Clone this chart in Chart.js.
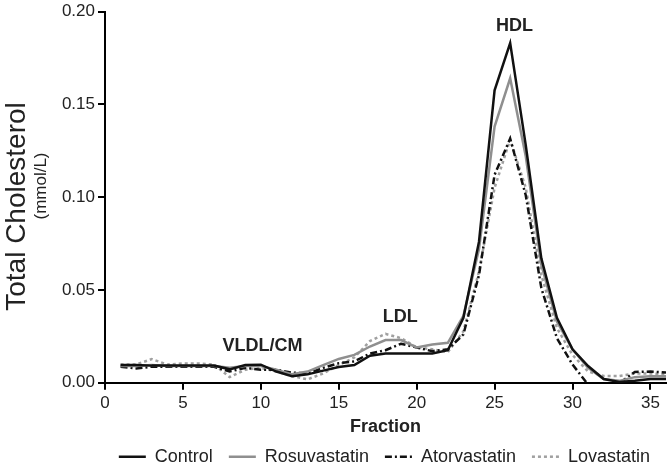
<!DOCTYPE html>
<html lang="en">
<head>
<meta charset="UTF-8">
<title>Total Cholesterol by Fraction</title>
<script src="https://cdn.jsdelivr.net/npm/chart.js"></script>
<style>
  html, body { margin: 0; padding: 0; background: #fff; }
  #wrap { width: 670px; height: 467px; position: relative; }
</style>
</head>
<body>
<div id="wrap"><canvas id="chart" width="670" height="467"></canvas></div>
<script>
// fraction numbers (x) and total cholesterol in mmol/L for each group
const fractions = [1, 2, 3, 4, 5, 6, 7, 8, 9, 10, 11, 12, 13, 14, 15, 16, 17, 18,
                   19, 20, 21, 22, 23, 24, 25, 26, 27, 28, 29, 30, 31, 32, 33, 34, 35, 36];
const control = [0.0095, 0.0095, 0.0092, 0.0092, 0.0092, 0.0092, 0.0092, 0.0072, 0.0095, 0.0097,
                 0.006, 0.0035, 0.0045, 0.0065, 0.0085, 0.0095, 0.0145, 0.0157, 0.0157, 0.0157,
                 0.0157, 0.0175, 0.035, 0.076, 0.1575, 0.183, 0.128, 0.067, 0.035, 0.018,
                 0.009, 0.002, 0.0004, 0.001, 0.002, 0.002];
const rosuvastatin = [0.009, 0.009, 0.0095, 0.009, 0.009, 0.009, 0.009, 0.008, 0.009, 0.009,
                      0.007, 0.0045, 0.006, 0.0095, 0.0128, 0.015, 0.0195, 0.023, 0.023, 0.019,
                      0.0206, 0.0215, 0.036, 0.072, 0.138, 0.164, 0.122, 0.0635, 0.033, 0.018,
                      0.008, 0.002, 0.001, 0.003, 0.0035, 0.0035];
const atorvastatin = [0.0086, 0.0077, 0.0086, 0.0086, 0.0086, 0.0086, 0.0086, 0.006, 0.008, 0.007,
                      0.007, 0.0054, 0.005, 0.008, 0.0105, 0.0115, 0.0157, 0.0175, 0.021, 0.019,
                      0.017, 0.018, 0.026, 0.058, 0.112, 0.1315, 0.101, 0.051, 0.024, 0.0098,
                      -0.001, -0.004, -0.0003, 0.0058, 0.006, 0.0055];
const lovastatin = [0.0098, 0.0098, 0.0127, 0.0098, 0.0104, 0.0104, 0.0098, 0.003, 0.007, 0.008,
                    0.006, 0.0036, 0.0018, 0.005, 0.0095, 0.0136, 0.0224, 0.0263, 0.024, 0.019,
                    0.018, 0.0165, 0.0277, 0.06, 0.105, 0.131, 0.105, 0.058, 0.0295, 0.015,
                    0.006, 0.0036, 0.0036, 0.005, 0.005, 0.0045];

const xTickValues = [0, 5, 10, 15, 20, 25, 30, 35];
const yTickValues = [0, 0.05, 0.10, 0.15, 0.20];

// peak labels: text with the data position of its centre
const peakLabels = [
  { text: 'VLDL/CM', x: 10.1, y: 0.0197 },
  { text: 'LDL', x: 18.95, y: 0.0355 },
  { text: 'HDL', x: 26.27, y: 0.1923 }
];

const FONT = "'Liberation Sans', Arial, sans-serif";
const TEXT = '#222';
const LINE_W = 2.5;

function points(values) {
  return fractions.map((f, i) => ({ x: f, y: values[i] }));
}

const series = [
  { label: 'Control', data: points(control), borderColor: '#111', borderDash: [] },
  { label: 'Rosuvastatin', data: points(rosuvastatin), borderColor: '#8f8f8f', borderDash: [] },
  { label: 'Atorvastatin', data: points(atorvastatin), borderColor: '#111', borderDash: [7, 3, 2, 3] },
  { label: 'Lovastatin', data: points(lovastatin), borderColor: '#a0a0a0', borderDash: [3, 3] }
];

// y-axis title (two lines of different size) and the peak labels
const extraText = {
  id: 'extraText',
  afterDraw(chart) {
    const ctx = chart.ctx;
    const xs = chart.scales.x, ys = chart.scales.y;
    ctx.save();
    ctx.fillStyle = TEXT;
    ctx.textAlign = 'center';
    ctx.textBaseline = 'middle';
    ctx.font = 'bold 18px ' + FONT;
    peakLabels.forEach(p => {
      ctx.fillText(p.text, xs.getPixelForValue(p.x), ys.getPixelForValue(p.y));
    });
    ctx.translate(17, 206.5);
    ctx.rotate(-Math.PI / 2);
    ctx.font = '28px ' + FONT;
    ctx.fillText('Total Cholesterol', 0, 0);
    ctx.font = '17px ' + FONT;
    ctx.fillText('(mmol/L)', 20.5, 24);
    ctx.restore();
  }
};

new Chart(document.getElementById('chart'), {
  type: 'line',
  data: {
    datasets: series.map(s => ({
      label: s.label,
      data: s.data,
      borderColor: s.borderColor,
      backgroundColor: s.borderColor,
      borderDash: s.borderDash,
      borderWidth: LINE_W,
      pointRadius: 0,
      tension: 0,
      fill: false,
      clip: 0
    }))
  },
  options: {
    responsive: false,
    animation: false,
    events: [],
    layout: { padding: { left: 0, right: 4, top: 9, bottom: -8.7 } },
    plugins: {
      tooltip: { enabled: false },
      legend: {
        position: 'bottom',
        align: 'end',
        labels: {
          usePointStyle: true,
          pointStyle: 'line',
          pointStyleWidth: 27,
          padding: 16,
          color: TEXT,
          font: { family: FONT, size: 18 },
          // take the dash pattern and width from the line, not from the point style
          generateLabels: chart => Chart.defaults.plugins.legend.labels.generateLabels(chart).map(item => {
            const ds = chart.data.datasets[item.datasetIndex];
            item.lineDash = ds.borderDash;
            item.lineWidth = LINE_W;
            item.strokeStyle = ds.borderColor;
            return item;
          })
        }
      }
    },
    scales: {
      x: {
        type: 'linear',
        min: 0,
        max: 36,
        afterBuildTicks: axis => { axis.ticks = xTickValues.map(v => ({ value: v })); },
        afterFit: axis => { axis.height = 49; },
        border: { display: true, color: '#000', width: 2 },
        grid: { drawOnChartArea: false, drawTicks: true, tickLength: 7, color: '#000', lineWidth: 2 },
        ticks: { color: TEXT, padding: 3, maxRotation: 0, font: { family: FONT, size: 17 } },
        title: {
          display: true,
          text: 'Fraction',
          color: TEXT,
          padding: { top: 0, bottom: -6 },
          font: { family: FONT, size: 18, weight: 'bold' }
        }
      },
      y: {
        min: 0,
        max: 0.2,
        afterBuildTicks: axis => { axis.ticks = yTickValues.map(v => ({ value: v })); },
        afterFit: axis => { axis.width = 105; },
        border: { display: true, color: '#000', width: 2 },
        grid: { drawOnChartArea: false, drawTicks: true, tickLength: 7, color: '#000', lineWidth: 2 },
        ticks: {
          color: TEXT,
          padding: 3,
          font: { family: FONT, size: 17, lineHeight: 1 },
          callback: v => v.toFixed(2)
        }
      }
    }
  },
  plugins: [extraText]
});
</script>
</body>
</html>
